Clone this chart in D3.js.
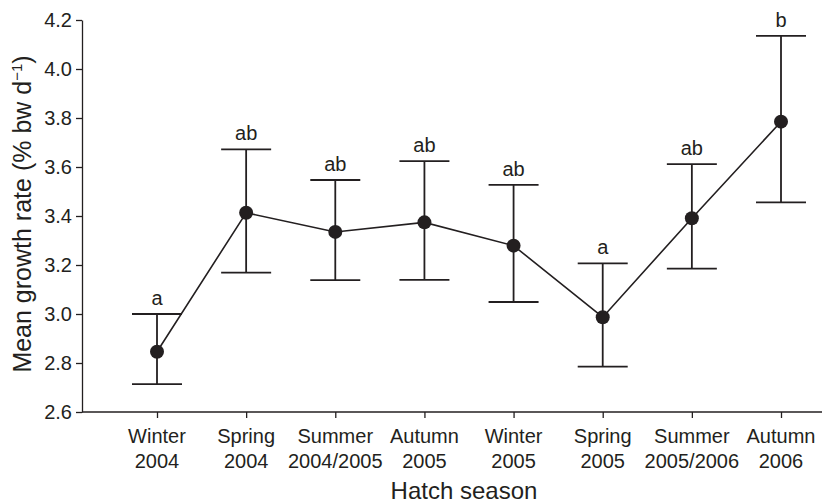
<!DOCTYPE html>
<html>
<head>
<meta charset="utf-8">
<script src="https://cdn.jsdelivr.net/npm/d3@7"></script>
<style>
  body { margin: 0; background: #fff; }
  svg text { font-family: "Liberation Sans", Arial, sans-serif; fill: #231f20; }
</style>
</head>
<body>
<div id="chart"></div>
<script>
// hatch seasons (two-line labels)
const seasons = ["Winter|2004", "Spring|2004", "Summer|2004/2005", "Autumn|2005",
                 "Winter|2005", "Spring|2005", "Summer|2005/2006", "Autumn|2006"];
const means = [2.846, 3.413, 3.335, 3.374, 3.279, 2.987, 3.391, 3.785];
const upper = [3.000, 3.672, 3.547, 3.624, 3.527, 3.207, 3.612, 4.135];
const lower = [2.714, 3.169, 3.138, 3.139, 3.049, 2.785, 3.185, 3.456];
const letters = ["a", "ab", "ab", "ab", "ab", "a", "ab", "b"];
const yTicks = [2.6, 2.8, 3.0, 3.2, 3.4, 3.6, 3.8, 4.0, 4.2];

function init() {
    const width = 822, height = 504;
    const axisX = 82, axisY = 412;
    const ink = "#231f20";

    const svg = d3.select("#chart")
                  .append("svg")
                  .attr("width", width)
                  .attr("height", height);

    const x = d3.scalePoint()
                .domain(seasons)
                .range([157, 781]);

    const y = d3.scaleLinear()
                .domain([2.6, 4.2])
                .range([axisY, 20]);

    const data = seasons.map((s, i) => ({
        s, m: means[i], hi: upper[i], lo: lower[i], l: letters[i]
    }));

    // y axis
    const gy = svg.append("g")
        .attr("transform", `translate(${axisX},0)`)
        .call(d3.axisLeft(y).tickValues(yTicks).tickFormat(d3.format(".1f"))
                .tickSize(6).tickSizeOuter(0).tickPadding(4));
    gy.select(".domain").attr("stroke", ink).attr("stroke-width", 1.3);
    gy.selectAll(".tick line").attr("stroke", ink).attr("stroke-width", 1.3);
    gy.selectAll(".tick text").style("font-size", "20px").attr("fill", ink);

    // x axis
    const gx = svg.append("g")
        .attr("transform", `translate(0,${axisY})`)
        .call(d3.axisBottom(x).tickSize(6).tickSizeOuter(0).tickFormat(""));
    gx.select(".domain").remove();
    gx.selectAll(".tick line").attr("stroke", ink).attr("stroke-width", 1.3);
    gx.append("line")
        .attr("x1", axisX).attr("x2", width)
        .attr("stroke", ink).attr("stroke-width", 1.3);

    // x tick labels on two lines
    svg.append("g").selectAll("text")
        .data(seasons)
        .join("text")
        .attr("text-anchor", "middle")
        .attr("x", d => x(d))
        .attr("y", 442.5)
        .style("font-size", "20px")
        .each(function(d) {
            const parts = d.split("|");
            d3.select(this).append("tspan").attr("x", x(d)).text(parts[0]);
            d3.select(this).append("tspan").attr("x", x(d)).attr("dy", 25).text(parts[1]);
        });

    // axis titles
    svg.append("text")
        .attr("x", 464)
        .attr("y", 499)
        .attr("text-anchor", "middle")
        .style("font-size", "24px")
        .text("Hatch season");

    const yt = svg.append("text")
        .attr("transform", `translate(31,214) rotate(-90)`)
        .attr("text-anchor", "middle")
        .style("font-size", "25px");
    yt.append("tspan").text("Mean growth rate (% bw d");
    yt.append("tspan").attr("dy", -9).style("font-size", "15px").text("\u22121");
    yt.append("tspan").attr("dy", 9).text(")");

    // error bars
    const bars = svg.append("g")
        .attr("stroke", ink)
        .attr("stroke-width", 1.8);
    bars.selectAll("line.v")
        .data(data)
        .join("line")
        .attr("class", "v")
        .attr("x1", d => x(d.s)).attr("x2", d => x(d.s))
        .attr("y1", d => y(d.hi)).attr("y2", d => y(d.lo));
    bars.selectAll("line.hi")
        .data(data)
        .join("line")
        .attr("class", "hi")
        .attr("x1", d => x(d.s) - 25).attr("x2", d => x(d.s) + 25)
        .attr("y1", d => y(d.hi)).attr("y2", d => y(d.hi));
    bars.selectAll("line.lo")
        .data(data)
        .join("line")
        .attr("class", "lo")
        .attr("x1", d => x(d.s) - 25).attr("x2", d => x(d.s) + 25)
        .attr("y1", d => y(d.lo)).attr("y2", d => y(d.lo));

    // connecting line
    svg.append("path")
        .datum(data)
        .attr("fill", "none")
        .attr("stroke", ink)
        .attr("stroke-width", 1.6)
        .attr("d", d3.line().x(d => x(d.s)).y(d => y(d.m)));

    // points
    svg.selectAll("circle")
        .data(data)
        .join("circle")
        .attr("cx", d => x(d.s))
        .attr("cy", d => y(d.m))
        .attr("r", 7)
        .attr("fill", ink);

    // significance letters
    svg.append("g").selectAll("text")
        .data(data)
        .join("text")
        .attr("x", d => x(d.s))
        .attr("y", d => y(d.hi) - 9)
        .attr("text-anchor", "middle")
        .style("font-size", "20px")
        .text(d => d.l);
}

window.onload = init;
</script>
</body>
</html>
